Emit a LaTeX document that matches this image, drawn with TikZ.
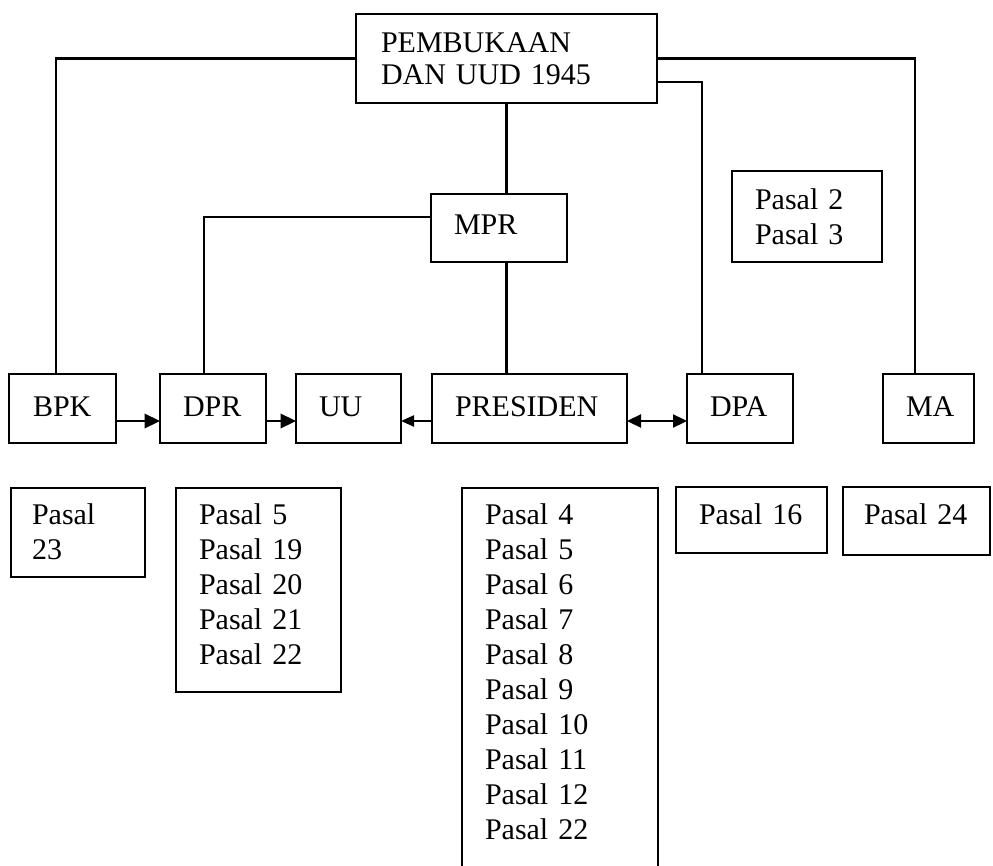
\documentclass[tikz,border=0pt]{standalone}
\usepackage{fontspec}
\setmainfont{Liberation Serif}
\usetikzlibrary{arrows.meta}
\begin{document}
\begin{tikzpicture}[x=0.4pt,y=-0.4pt,
  organ/.style={draw, line width=0.9pt, anchor=north west, outer sep=0pt,
    inner ysep=0pt, inner xsep=9.2pt, align=left,
    font=\fontsize{12}{14}\selectfont},
  midbox/.style={organ, text height=16.8pt, text depth=10.8pt},
  pasalbox/.style={organ, text height=14.4pt},
  link/.style={line width=0.9pt},
  flow/.style={line width=0.9pt, -{Triangle[length=6.2pt,width=5.8pt]}},
  smallflow/.style={line width=0.9pt, -{Triangle[length=5.2pt,width=4.4pt]}},
  twoway/.style={line width=0.9pt, {Triangle[length=5.6pt,width=5.2pt]}-{Triangle[length=5.6pt,width=5.2pt]}}
]
\useasboundingbox (0,0) rectangle (993,866);

% top: the constitution
\node[organ, inner xsep=10pt, text width=100.4pt, text height=15.6pt, text depth=20pt,
      font=\fontsize{12}{12.8}\selectfont] (uud) at (356,14) {PEMBUKAAN\\DAN UUD 1945};

% MPR and its articles
\node[organ, text width=36pt, text height=16pt, text depth=11.2pt] (mpr) at (431,194) {MPR};
\node[organ, text width=41.6pt, text height=15.2pt, text depth=21.2pt] (p23) at (732,171) {Pasal 2\\Pasal 3};

% state institutions
\node[midbox, inner xsep=9.6pt, text width=23.6pt] (bpk) at (9,374) {BPK};
\node[midbox, text width=24pt] (dpr) at (160,374) {DPR};
\node[midbox, text width=23.6pt] (uu) at (296,374) {UU};
\node[midbox, text width=59.6pt] (pres) at (432,374) {PRESIDEN};
\node[midbox, text width=24pt] (dpa) at (687,374) {DPA};
\node[midbox, text width=18pt] (ma) at (883,374) {MA};

% articles per institution
\node[pasalbox, inner xsep=8.4pt, text width=36.8pt, text depth=21.2pt] (pbpk) at (11,488) {Pasal\\23};
\node[pasalbox, text width=47.6pt, text depth=67.2pt] (pdpr) at (176,488)
  {Pasal 5\\Pasal 19\\Pasal 20\\Pasal 21\\Pasal 22};
\node[pasalbox, text width=60pt, text depth=142.4pt] (ppres) at (462,488)
  {Pasal 4\\Pasal 5\\Pasal 6\\Pasal 7\\Pasal 8\\Pasal 9\\Pasal 10\\Pasal 11\\Pasal 12\\Pasal 22};
\node[pasalbox, text height=14.8pt, text width=42pt, text depth=11.6pt] (pdpa) at (676,487) {Pasal 16};
\node[pasalbox, inner xsep=8.4pt, text height=14.8pt, text width=42pt, text depth=12.4pt] (pma) at (843,487) {Pasal 24};

% lines from the constitution
\draw[link] (uud.west) -| ([xshift=-2.6pt]bpk.north);
\draw[link] (uud.east) -| ([xshift=-5.4pt]ma.north);
\draw[link] ([yshift=-9.4pt]uud.east) -| ([xshift=6pt]dpa.north west);
\draw[link] (uud.south) -- (uud.south |- mpr.north);
\draw[link] ([yshift=4.4pt]mpr.west) -| ([xshift=-3.6pt]dpr.north);
\draw[link] (uud.south |- mpr.south) -- (uud.south |- pres.north);

% arrows between institutions
\draw[flow] ([yshift=-5pt]bpk.east) -- ([yshift=-5pt]dpr.west);
\draw[flow] ([yshift=-5pt]dpr.east) -- ([yshift=-5pt]uu.west);
\draw[smallflow] ([yshift=-5pt]pres.west) -- ([yshift=-5pt]uu.east);
\draw[twoway] ([yshift=-5pt]pres.east) -- ([yshift=-5pt]dpa.west);
\end{tikzpicture}
\end{document}
